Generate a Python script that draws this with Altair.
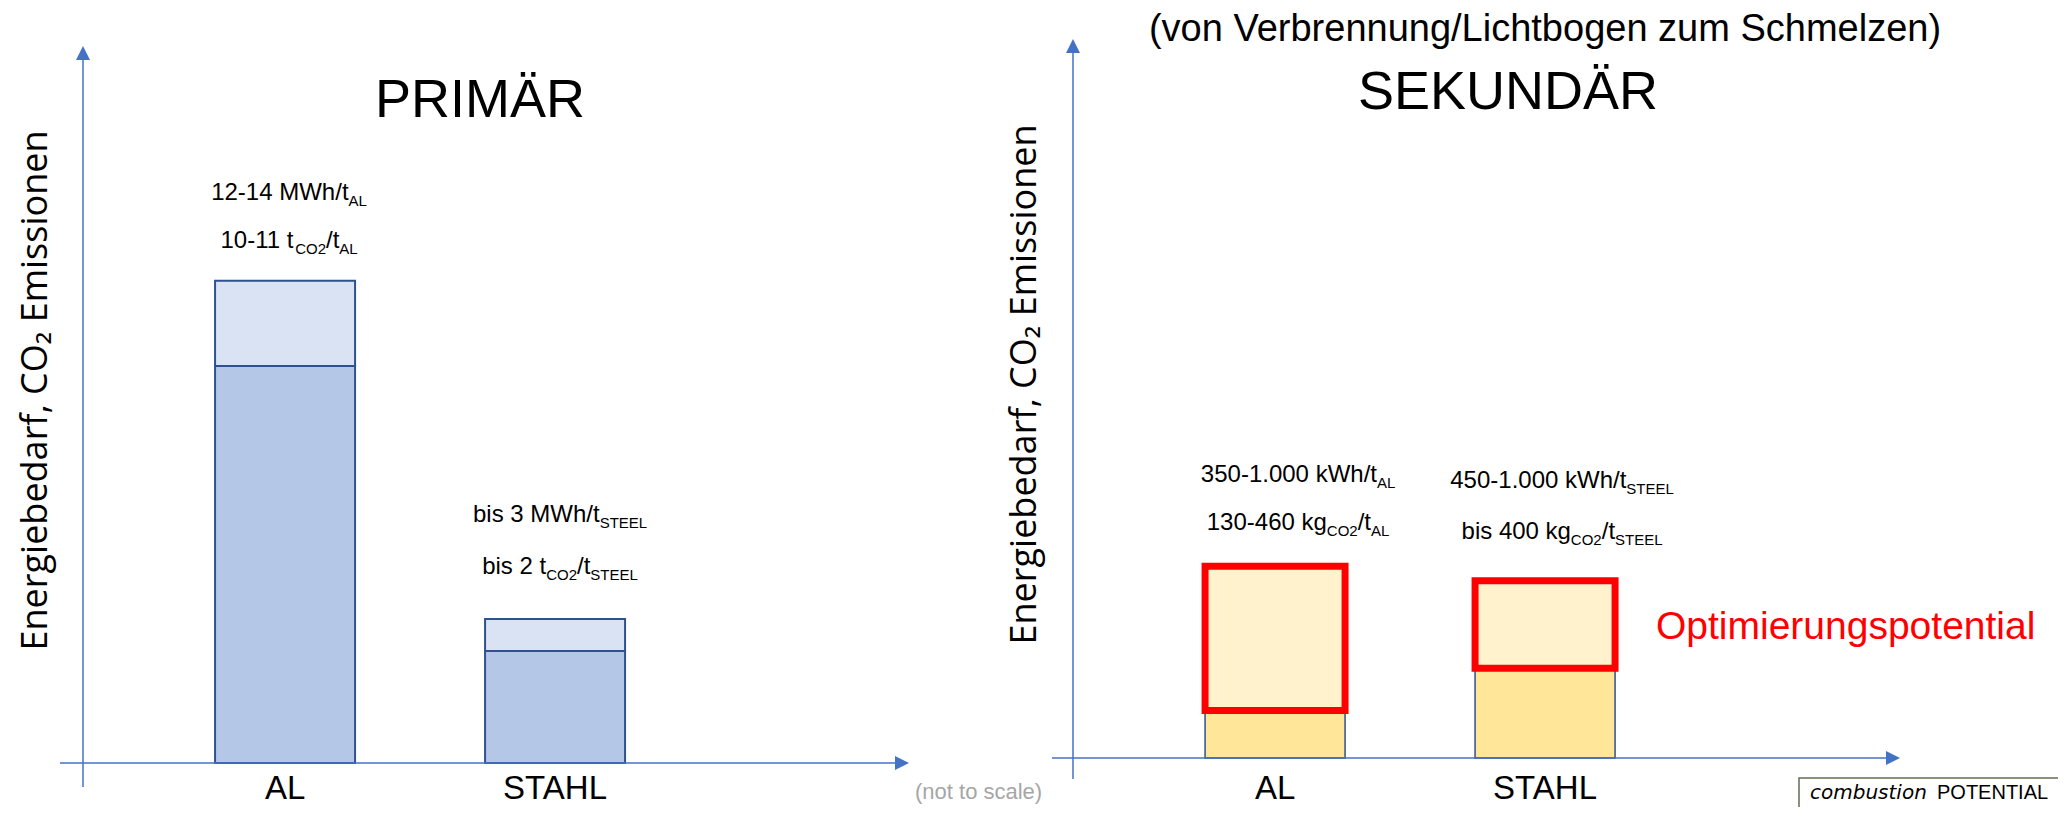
import altair as alt
import pandas as pd

# ---------------- data ----------------
categories = ["AL", "STAHL"]

# bar heights in arbitrary index units (the sketch is "not to scale")
primaer_total = [66.7, 19.9]
primaer_base = [54.9, 15.5]
sekundaer_total = [26.7, 24.7]
sekundaer_base = [6.6, 12.5]

# annotation lines: (text, is_subscript)
primaer_line1 = [
    [("12-14 MWh/t", False), ("AL", True)],
    [("bis 3 MWh/t", False), ("STEEL", True)],
]
primaer_line2 = [
    [("10-11 t", False), ("CO2", True), ("/t", False), ("AL", True)],
    [("bis 2 t", False), ("CO2", True), ("/t", False), ("STEEL", True)],
]
sekundaer_line1 = [
    [("350-1.000 kWh/t", False), ("AL", True)],
    [("450-1.000 kWh/t", False), ("STEEL", True)],
]
sekundaer_line2 = [
    [("130-460 kg", False), ("CO2", True), ("/t", False), ("AL", True)],
    [("bis 400 kg", False), ("CO2", True), ("/t", False), ("STEEL", True)],
]

title_primaer = "PRIMÄR"
title_sekundaer = "SEKUNDÄR"
subtitle_sekundaer = "(von Verbrennung/Lichtbogen zum Schmelzen)"
y_title = "Energiebedarf, CO₂ Emissionen"
note_scale = "(not to scale)"
note_potential = "Optimierungspotential"
logo_words = ["combustion", "POTENTIAL"]

# ---------------- style / layout ----------------
FONT = "Liberation Sans"
YFONT = "Open Sans"
AXIS_BLUE = "#4472C4"
EDGE_BLUE = "#2F528F"
W = 824
H_L = 723
H_R = 718
MAIN = 24
SUB = 15
SUB_DY = 6

# (centre dx, dy line 1, dy line 2) relative to bar top
PRIM_OFF = [(4, -81, -33), (5, -97, -45)]
SEK_OFF = [(23, -84, -36), (17, -93, -42)]

x_scale = alt.Scale(domain=categories, paddingInner=0.48148, paddingOuter=0.76667, align=0.319)
y_scale = alt.Scale(domain=[0, 100], nice=False, zero=True)

ARIAL = {' ': 278, '-': 333, '.': 278, '/': 278, 'M': 833, 'W': 944, 'h': 556, 't': 278,
         'A': 667, 'L': 556, 'C': 722, 'O': 778, 'k': 500, 'g': 556, 'b': 556, 'i': 222,
         's': 500, 'S': 667, 'T': 611, 'E': 667, 'l': 222}


def text_width(s, size):
    return sum(ARIAL.get(c, 556) for c in s) * size / 1000.0


one = pd.DataFrame({"k": [0]})
UP = "M0,0 L1,2 L-1,2 Z"
RIGHT = "M0,0 L-2,-1 L-2,1 Z"


def make_axes(x_label_pad, title_y, title_pad):
    x_axis = alt.Axis(title=None, domain=False, ticks=False, tickSize=0, grid=False, labelAngle=0,
                      labelFont=FONT, labelFontSize=33, labelColor="black",
                      labelPadding=x_label_pad, labelBaseline="alphabetic")
    y_axis = alt.Axis(title=y_title, domain=False, ticks=False, labels=False, grid=False,
                      titleFont=YFONT, titleFontSize=36, titleFontWeight="normal",
                      titleColor="black", titlePadding=title_pad, titleY=title_y)
    return x_axis, y_axis


def bars(totals, bases, axes, base_kw, top_kw):
    x_axis, y_axis = axes
    df = pd.DataFrame({"kategorie": categories, "start": [0.0] * len(categories),
                       "basis": bases, "gesamt": totals})
    base = alt.Chart(df).mark_bar(**base_kw).encode(
        x=alt.X("kategorie:N", scale=x_scale, axis=x_axis),
        y=alt.Y("start:Q", scale=y_scale, axis=y_axis),
        y2="basis:Q")
    top = alt.Chart(df).mark_bar(**top_kw).encode(
        x=alt.X("kategorie:N", scale=x_scale, axis=x_axis),
        y=alt.Y("basis:Q", scale=y_scale, axis=y_axis),
        y2="gesamt:Q")
    return [base, top]


def axis_lines(H, ytop, ybot, xleft, xright):
    yl = alt.Chart(one).mark_rule(color=AXIS_BLUE, strokeWidth=1.5).encode(
        x=alt.value(0), y=alt.value(ytop + 4), y2=alt.value(ybot))
    xl = alt.Chart(one).mark_rule(color=AXIS_BLUE, strokeWidth=1.5).encode(
        y=alt.value(H), x=alt.value(xleft), x2=alt.value(xright - 4))
    up = alt.Chart(one).mark_point(shape=UP, size=196, filled=True, color=AXIS_BLUE,
                                   strokeWidth=0, opacity=1).encode(
        x=alt.value(0), y=alt.value(ytop))
    rt = alt.Chart(one).mark_point(shape=RIGHT, size=196, filled=True, color=AXIS_BLUE,
                                   strokeWidth=0, opacity=1).encode(
        x=alt.value(xright), y=alt.value(H))
    return [yl, xl, up, rt]


def label(text, x, y, size, color="black", align="center", font=FONT, **extra):
    return alt.Chart(one).mark_text(text=text, font=font, fontSize=size, color=color,
                                    align=align, baseline="alphabetic", **extra).encode(
        x=alt.value(x), y=alt.value(y))


def annotations(lines1, lines2, totals, offs, axes):
    x_axis, y_axis = axes
    layers = []
    for i, cat in enumerate(categories):
        dxc, dy1, dy2 = offs[i]
        for line, dy in ((lines1[i], dy1), (lines2[i], dy2)):
            widths = [text_width(t, SUB if s else MAIN) for t, s in line]
            x = dxc - sum(widths) / 2.0
            for (t, s), w in zip(line, widths):
                df = pd.DataFrame({"kategorie": [cat], "gesamt": [totals[i]], "txt": [t]})
                layers.append(alt.Chart(df).mark_text(
                    align="left", baseline="alphabetic", font=FONT,
                    fontSize=SUB if s else MAIN, color="black",
                    dx=round(x, 1), dy=dy + (SUB_DY if s else 0)).encode(
                    x=alt.X("kategorie:N", scale=x_scale, axis=x_axis),
                    y=alt.Y("gesamt:Q", scale=y_scale, axis=y_axis),
                    text="txt:N"))
                x += w
    return layers


# ---------------- left panel: PRIMÄR ----------------
axes_l = make_axes(35, 350, 29)
left_layers = bars(primaer_total, primaer_base, axes_l,
                   dict(fill="#B4C7E7", stroke=EDGE_BLUE, strokeWidth=2),
                   dict(fill="#DAE3F3", stroke=EDGE_BLUE, strokeWidth=2))
left_layers += axis_lines(H_L, 6, 747, -23, 826)
left_layers += annotations(primaer_line1, primaer_line2, primaer_total, PRIM_OFF, axes_l)
left_layers += [
    label(title_primaer, 397, 77, 54),
    label(note_scale, 832, 759, 22, color="#A6A6A6", align="left"),
]
left = alt.layer(*left_layers).properties(width=W, height=H_L)

# ---------------- right panel: SEKUNDÄR ----------------
axes_r = make_axes(40, 344, 30)
right_layers = bars(sekundaer_total, sekundaer_base, axes_r,
                    dict(fill="#FFE699", stroke=EDGE_BLUE, strokeWidth=1.5),
                    dict(fill="#FFF2CC", stroke="#FF0000", strokeWidth=7))
right_layers += axis_lines(H_R, -1, 739, -21, 827)
right_layers += annotations(sekundaer_line1, sekundaer_line2, sekundaer_total, SEK_OFF, axes_r)
right_layers += [
    label(subtitle_sekundaer, 472, 1, 38),
    label(title_sekundaer, 435, 69, 54),
    label(note_potential, 583, 599, 39, color="#FF0000", align="left"),
    alt.Chart(one).mark_rect(fill="white", stroke="#5F6F52", strokeWidth=1.5).encode(
        x=alt.value(726), x2=alt.value(1100), y=alt.value(738), y2=alt.value(790)),
    label(logo_words[0], 737, 759, 20, align="left", fontStyle="italic", font="DejaVu Sans"),
    label(logo_words[1], 864, 759, 20, align="left"),
]
right = alt.layer(*right_layers).properties(width=W, height=H_R)

chart = alt.hconcat(left, right, spacing=166, bounds="flush").properties(
    padding={"left": 9, "top": 3, "right": -116, "bottom": -24},
    background="white",
).configure_view(stroke=None)

chart.save("out.html", embed_options={"renderer": "svg", "actions": False})
